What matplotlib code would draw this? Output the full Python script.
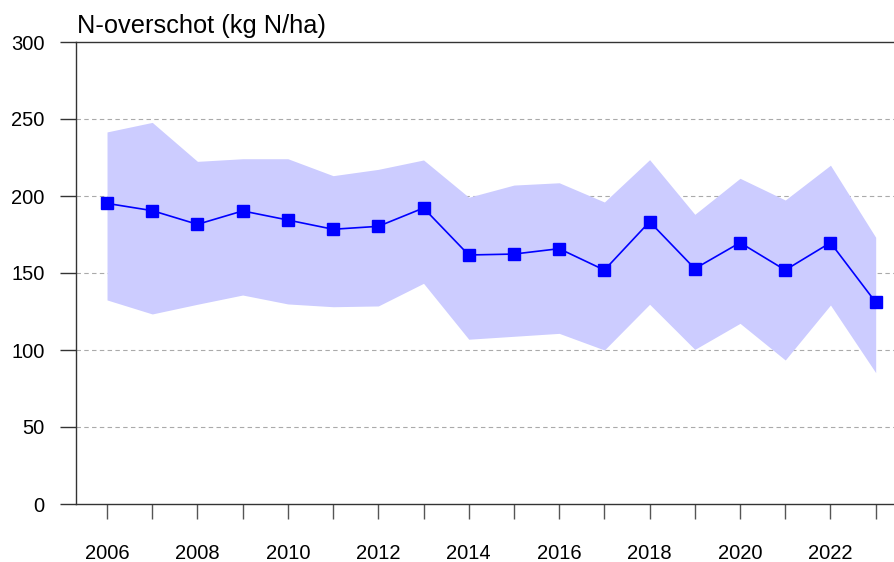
import matplotlib
matplotlib.use("Agg")
import matplotlib.pyplot as plt

plt.rcParams['font.family'] = ['Liberation Sans', 'DejaVu Sans']

years = list(range(2006, 2024))
mean_vals = [195.2, 190.5, 181.6, 190.3, 184.4, 178.4, 180.3, 192.2, 161.7, 162.3,
             165.8, 151.9, 183.3, 152.8, 169.7, 151.9, 169.7, 131.0]
upper_vals = [241.6, 247.8, 222.5, 224.2, 224.2, 213.2, 217.3, 223.4, 199.2, 207.1,
              208.6, 196.1, 223.6, 188.1, 211.5, 197.4, 220.0, 173.2]
lower_vals = [132.5, 123.4, 129.7, 135.7, 129.9, 128.1, 128.6, 143.3, 107.0, 108.9,
              110.8, 100.0, 129.7, 100.4, 117.3, 93.5, 129.2, 85.3]
y_ticks = [0, 50, 100, 150, 200, 250, 300]
x_labels = [str(y) if y % 2 == 0 else "" for y in years]
title = "N-overschot (kg N/ha)"

fig = plt.figure(figsize=(8.95, 5.62), dpi=100)
ax = fig.add_axes([76/895, 58/562, 819/895, 462/562])

ax.fill_between(years, lower_vals, upper_vals, color='#ccccff', linewidth=0, zorder=1)
ax.plot(years, mean_vals, color='#0000ff', linewidth=1.2, marker='s', markersize=8,
        markerfacecolor='#0000ff', markeredgecolor='#0000ff', zorder=3)

ax.set_xlim(2005.314, 2023.427)
ax.set_ylim(0, 300)
ax.set_yticks(y_ticks)
ax.set_xticks(years)
ax.set_xticklabels(x_labels)

for y in y_ticks[1:-1]:
    ax.axhline(y, color='#aaaaaa', linestyle=(0, (4, 3)), linewidth=0.8, zorder=0.5)

for s in ['left', 'bottom', 'top']:
    ax.spines[s].set_color('#333333')
    ax.spines[s].set_linewidth(1.0)
ax.spines['right'].set_visible(False)

ax.tick_params(axis='y', length=11.5, width=1.0, color='#333333', pad=11, labelsize=14.5, labelcolor='black')
ax.tick_params(axis='x', length=11, width=1.0, color='#555555', pad=18, labelsize=14.5, labelcolor='black')

fig.text(77/895, 1 - 33.5/562, title, fontsize=18.3, ha='left', va='baseline', color='black')

fig.savefig('out.png', dpi=100)
